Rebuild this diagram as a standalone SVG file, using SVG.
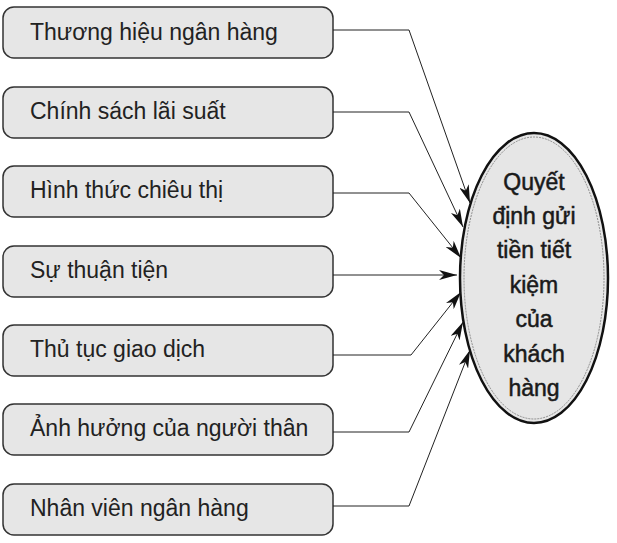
<svg xmlns="http://www.w3.org/2000/svg" width="617" height="543" viewBox="0 0 617 543">
<style>
.box{fill:#e6e6e6;stroke:#333;stroke-width:1.5}
.lbl{font-family:"Liberation Sans",Arial,sans-serif;font-size:23px;fill:#222}
.c{fill:none;stroke:#222;stroke-width:1}
.t{font-family:"Liberation Sans",Arial,sans-serif;font-size:23px;fill:#1a1a1a;stroke:#1a1a1a;stroke-width:0.5;text-anchor:middle}
</style>
<defs>
<marker id="ah" viewBox="0 0 18 10" refX="18" refY="5" markerWidth="18" markerHeight="10" markerUnits="userSpaceOnUse" orient="auto">
<path d="M0,0 L18,5 L0,10 L5,5 z" fill="#111"/>
</marker>
</defs>
<rect width="617" height="543" fill="#fff"/>
<g id="n1"><rect class="box" x="3" y="7" width="330" height="51" rx="11"/><text class="lbl" x="30" y="40">Thương hiệu ngân hàng</text></g>
<g id="n2"><rect class="box" x="3" y="87" width="330" height="51" rx="11"/><text class="lbl" x="30" y="119">Chính sách lãi suất</text></g>
<g id="n3"><rect class="box" x="3" y="166" width="330" height="51" rx="11"/><text class="lbl" x="30" y="198">Hình thức chiêu thị</text></g>
<g id="n4"><rect class="box" x="3" y="246" width="330" height="51" rx="11"/><text class="lbl" x="30" y="278">Sự thuận tiện</text></g>
<g id="n5"><rect class="box" x="3" y="325" width="330" height="51" rx="11"/><text class="lbl" x="30" y="357">Thủ tục giao dịch</text></g>
<g id="n6"><rect class="box" x="3" y="404" width="330" height="51" rx="11"/><text class="lbl" x="30" y="436">Ảnh hưởng của người thân</text></g>
<g id="n7"><rect class="box" x="3" y="484" width="330" height="51" rx="11"/><text class="lbl" x="30" y="516">Nhân viên ngân hàng</text></g>
<g id="target">
<ellipse cx="534" cy="278" rx="74" ry="145" fill="#e6e6e6" stroke="#111" stroke-width="2.5"/>
<ellipse cx="534" cy="278" rx="70" ry="141" fill="none" stroke="#777" stroke-width="0.8" stroke-dasharray="2,1"/>
<text class="t" x="534" y="190">Quyết</text>
<text class="t" x="534" y="224">định gửi</text>
<text class="t" x="534" y="258">tiền tiết</text>
<text class="t" x="534" y="293">kiệm</text>
<text class="t" x="534" y="327">của</text>
<text class="t" x="534" y="362">khách</text>
<text class="t" x="534" y="396">hàng</text>
</g>
<g id="connectors">
<polyline class="c" points="333,30 409,30 470,203" marker-end="url(#ah)"/>
<polyline class="c" points="333,112 409,112 463,227" marker-end="url(#ah)"/>
<polyline class="c" points="333,193 409,193 461,258" marker-end="url(#ah)"/>
<polyline class="c" points="333,275 457,275" marker-end="url(#ah)"/>
<polyline class="c" points="333,355 411,355 461,292" marker-end="url(#ah)"/>
<polyline class="c" points="333,432 409,432 463,322" marker-end="url(#ah)"/>
<polyline class="c" points="333,506 409,506 470,350" marker-end="url(#ah)"/>
</g>
</svg>
